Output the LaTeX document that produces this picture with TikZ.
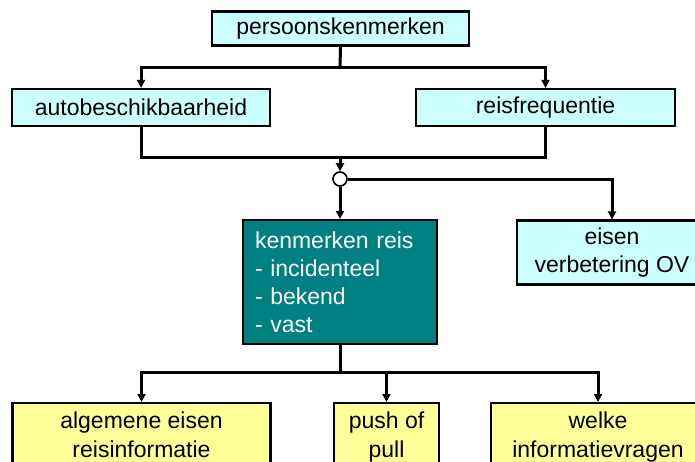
\documentclass[tikz,border=0pt]{standalone}
\usepackage{fontspec}
\setmainfont{Liberation Sans}
\usetikzlibrary{arrows.meta}

\definecolor{lightcyan}{HTML}{CCFFFF}
\definecolor{lightyellow}{HTML}{FFFF99}
\definecolor{darkteal}{HTML}{008080}

\tikzset{
  box/.style={draw=black, line width=2.2pt, rectangle, inner sep=0pt,
    font=\fontsize{23}{28}\selectfont, align=center},
  cyanbox/.style={box, fill=lightcyan},
  yellowbox/.style={box, fill=lightyellow, anchor=north, inner xsep=0pt, inner ysep=9pt},
  tealbox/.style={box, fill=darkteal, text=white, align=left, text width=170pt,
    inner xsep=12pt, minimum height=124pt},
  junction/.style={draw=black, line width=1.6pt, circle, fill=white, minimum size=14pt, inner sep=0pt},
  conn/.style={line width=3pt, draw=black},
  arr/.style={conn, -{Triangle[length=8pt,width=8pt]}},
}

\begin{document}
\begin{tikzpicture}[x=1pt, y=-1pt]
  \useasboundingbox (0,0) rectangle (695,461);
  \fill[white] (0,0) rectangle (695,461);
  \clip (0,0) rectangle (695,461);

  % boxes
  \node[cyanbox, minimum width=257pt, minimum height=34pt] (top) at (340.5,28.5) {persoonskenmerken};
  \node[cyanbox, minimum width=258pt, minimum height=37pt] (auto) at (141,107.5) {autobeschikbaarheid};
  \node[cyanbox, minimum width=259pt, minimum height=37pt] (reis) at (545.5,107.5) {reisfrequentie};
  \node[junction] (circ) at (340,179) {};
  \node[tealbox] (kenm) at (340,282) {kenmerken reis\\- incidenteel\\- bekend\\- vast};
  \node[cyanbox, minimum width=190pt, minimum height=64pt] (eisen) at (612,252.5) {eisen\\verbetering OV};
  \node[yellowbox, minimum width=258pt, font=\fontsize{23}{29}\selectfont] (alg) at (141.5,402) {algemene eisen\\reisinformatie};
  \node[yellowbox, minimum width=105pt, font=\fontsize{23}{29}\selectfont] (push) at (386.5,402) {push of\\pull};
  \node[yellowbox, minimum width=214pt, font=\fontsize{23}{29}\selectfont] (welke) at (598,402) {welke\\informatievragen};

  % junction points of the connector trees
  \coordinate (j1) at (340,67);
  \coordinate (j2) at (340,157);
  \coordinate (j3) at (340,372);

  % connectors
  \draw[conn] (top.south) -- (j1);
  \draw[arr] (j1) -| (auto.north);
  \draw[arr] (j1) -| (reis.north);

  \draw[conn] (auto.south) |- (j2);
  \draw[conn] (reis.south) |- (j2);
  \draw[arr] (j2) -- (circ.north);

  \draw[arr] (circ.east) -| (eisen.north);
  \draw[arr] (circ.south) -- (kenm.north);

  \draw[conn] (kenm.south) -- (j3);
  \draw[arr] (j3) -| (alg.north);
  \draw[arr] (j3) -| (push.north);
  \draw[arr] (j3) -| (welke.north);
\end{tikzpicture}
\end{document}
